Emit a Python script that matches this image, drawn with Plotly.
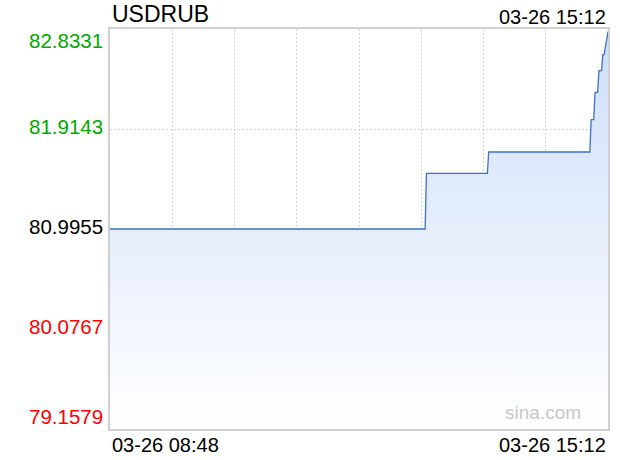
import plotly.graph_objects as go

# ---- data ----
symbol = "USDRUB"
date_str = "2025-03-26"
times = ["08:48", "12:51", "12:52", "13:39", "13:40", "14:58", "14:59", "15:01",
         "15:02", "15:04", "15:05", "15:07", "15:08", "15:09", "15:12"]
prices = [80.9955, 80.9955, 81.507, 81.507, 81.703, 81.703, 82.000, 82.000,
          82.251, 82.251, 82.450, 82.450, 82.597, 82.597, 82.81]
prev_close = 80.9955
y_ticks = [82.8331, 81.9143, 80.9955, 80.0767, 79.1579]
y_tick_labels = ["82.8331", "81.9143", "80.9955", "80.0767", "79.1579"]
x_start_label = "03-26 08:48"
x_end_label = "03-26 15:12"
watermark = "sina.com"

# ---- styles ----
FONT = "Liberation Sans, Arial, Helvetica, sans-serif"
UP = "#00a800"
DOWN = "#ff0000"
FLAT = "#000000"
ymin, ymax = min(y_ticks), max(y_ticks)
x = [f"{date_str} {t}" for t in times]
x_range = [x[0], f"{date_str} 15:12"]

fig = go.Figure()
fig.add_trace(go.Scatter(x=x, y=[ymin] * len(x), mode="lines",
                         line=dict(width=0), hoverinfo="skip", showlegend=False))
fig.add_trace(go.Scatter(
    x=x, y=prices, mode="lines", fill="tonexty",
    line=dict(color="#3d72c8", width=1.3),
    fillgradient=dict(type="vertical", start=ymin, stop=ymax,
                      colorscale=[[0, "rgba(255,255,255,1)"],
                                  [0.5, "rgb(230,238,252)"],
                                  [1, "rgb(205,222,248)"]]),
    showlegend=False))

fig.add_shape(type="line", xref="paper", x0=0, x1=1, yref="y", y0=prev_close, y1=prev_close,
              line=dict(color="#b8b8b8", width=1, dash="3px,2px,1px,2px"), layer="below")

ann = []
ann.append(dict(text=symbol, x=0, y=1, xref="paper", yref="paper", xanchor="left",
                yanchor="middle", yshift=15, showarrow=False,
                font=dict(size=23, color="#000", family=FONT)))
ann.append(dict(text=x_end_label, x=1, y=1, xref="paper", yref="paper", xanchor="right",
                yanchor="middle", yshift=12, showarrow=False,
                font=dict(size=20, color="#000", family=FONT)))
for v, lab in zip(y_ticks, y_tick_labels):
    col = UP if v > prev_close else (DOWN if v < prev_close else FLAT)
    if v == ymax:
        ya, ys = "top", 2
    elif v == ymin:
        ya, ys = "bottom", -1
    else:
        ya, ys = "middle", 3
    ann.append(dict(text=lab, x=0, y=v, xref="paper", yref="y", xanchor="right",
                    yanchor=ya, yshift=ys, xshift=-5, showarrow=False,
                    font=dict(size=20.5, color=col, family=FONT)))
ann.append(dict(text=x_start_label, x=0, y=0, xref="paper", yref="paper", xanchor="left",
                yanchor="top", yshift=-3, showarrow=False,
                font=dict(size=20, color="#000", family=FONT)))
ann.append(dict(text=x_end_label, x=1, y=0, xref="paper", yref="paper", xanchor="right",
                yanchor="top", yshift=-3, showarrow=False,
                font=dict(size=20, color="#000", family=FONT)))
ann.append(dict(text=watermark, x=1, y=0, xref="paper", yref="paper", xanchor="right",
                yanchor="bottom", xshift=-25, yshift=4, showarrow=False,
                font=dict(size=19, color="#c8c8c8", family=FONT)))

fig.update_layout(
    width=620, height=460,
    margin=dict(l=110, r=10, t=29, b=31),
    paper_bgcolor="white", plot_bgcolor="white",
    annotations=ann,
    xaxis=dict(type="date", range=x_range, showticklabels=False,
               tick0=x[0], dtick=48 * 60 * 1000,
               showgrid=True, gridcolor="#d4d4d4", griddash="2px,2px", gridwidth=1,
               showline=True, mirror=True, linecolor="#d0d0d0", linewidth=1.5,
               zeroline=False, fixedrange=True),
    yaxis=dict(range=[ymin, ymax], tickvals=y_ticks, showticklabels=False,
               showgrid=True, gridcolor="#d4d4d4", griddash="2px,2px", gridwidth=1,
               showline=True, mirror=True, linecolor="#d0d0d0", linewidth=1.5,
               zeroline=False, fixedrange=True),
    font=dict(family=FONT),
)

# remove the default 8px page margin so the 620x460 figure fills the window exactly
fig.write_html("out.html", config={"displayModeBar": False},
               post_script="document.body.style.margin='0';document.body.style.overflow='hidden';")
